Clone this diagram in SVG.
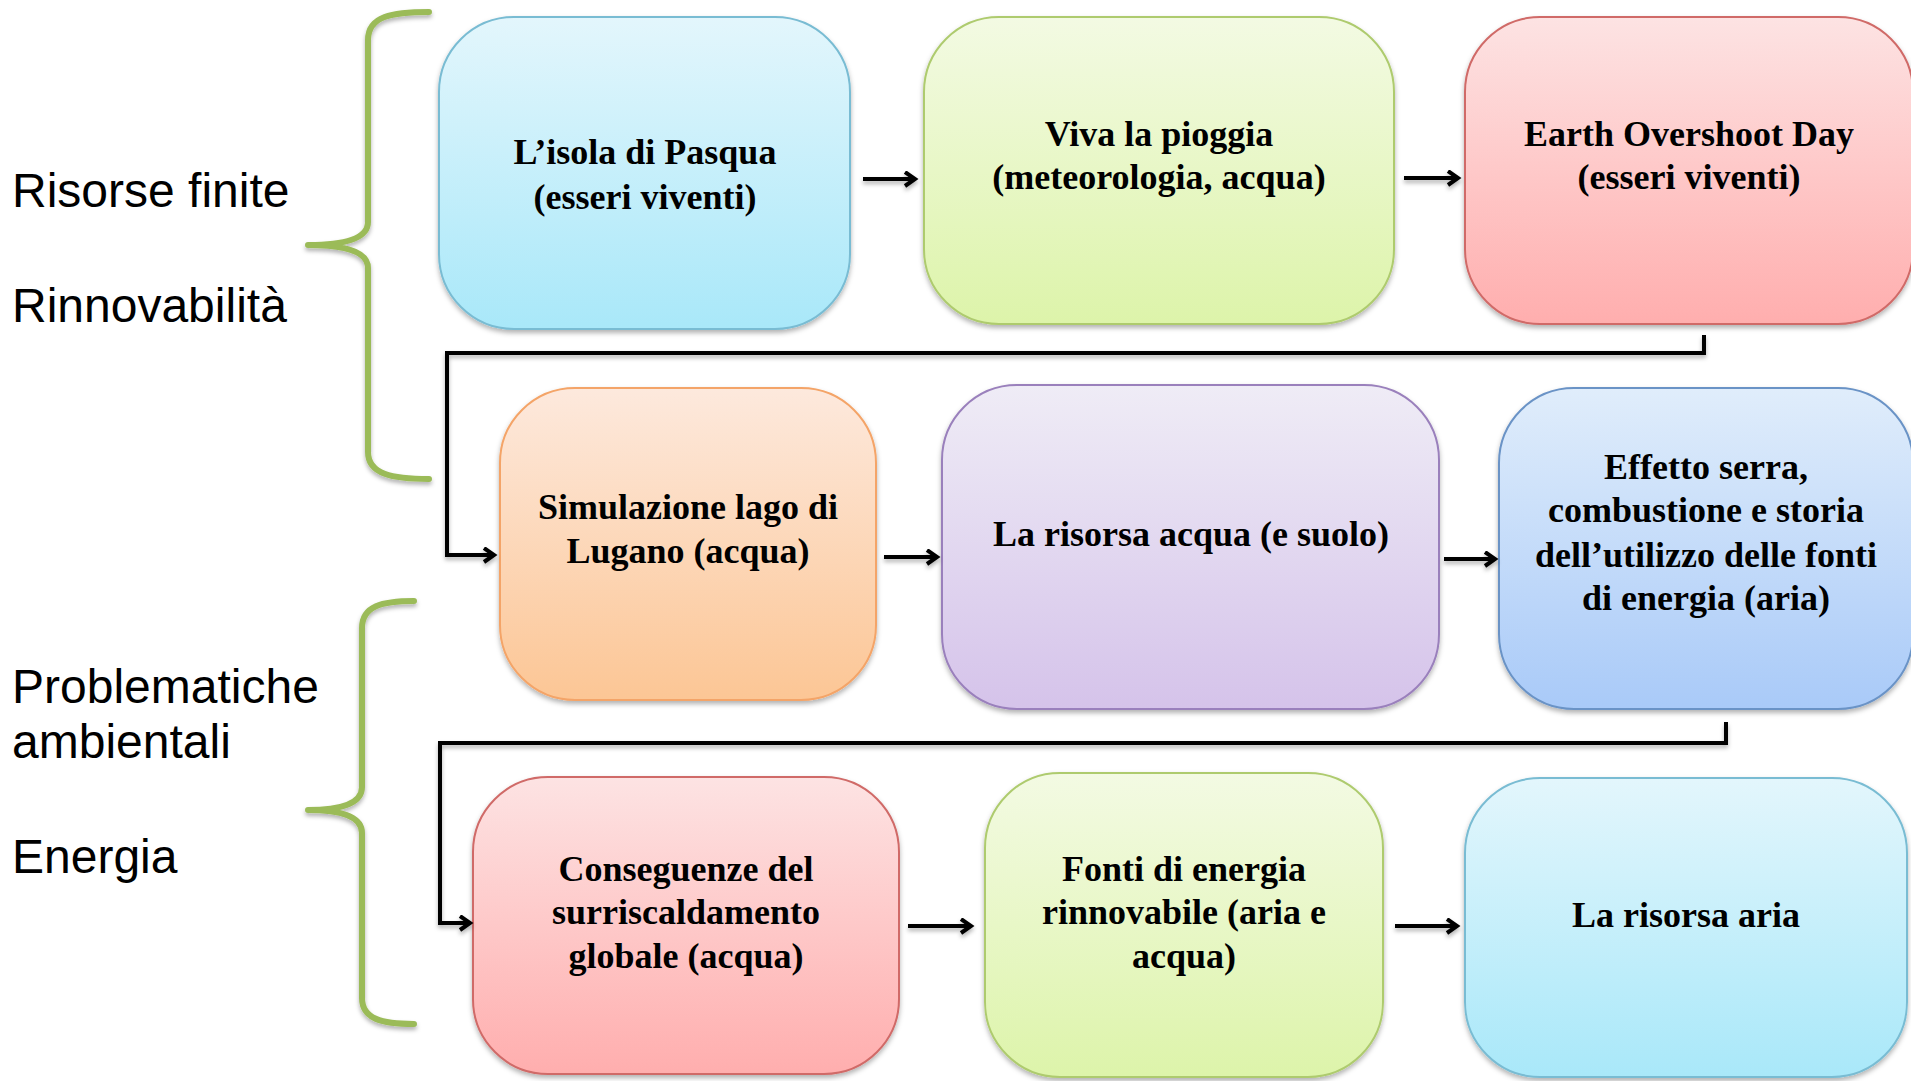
<svg xmlns="http://www.w3.org/2000/svg" width="1911" height="1081" viewBox="0 0 1911 1081">
<defs>
<linearGradient id="gCyan" x1="0" y1="0" x2="0" y2="1"><stop offset="0" stop-color="#E3F6FC"/><stop offset="1" stop-color="#A9E8F9"/></linearGradient>
<linearGradient id="gGreen" x1="0" y1="0" x2="0" y2="1"><stop offset="0" stop-color="#F3FAE3"/><stop offset="1" stop-color="#DDF4AA"/></linearGradient>
<linearGradient id="gRed" x1="0" y1="0" x2="0" y2="1"><stop offset="0" stop-color="#FDE3E3"/><stop offset="1" stop-color="#FFAEAE"/></linearGradient>
<linearGradient id="gOrange" x1="0" y1="0" x2="0" y2="1"><stop offset="0" stop-color="#FDE9DD"/><stop offset="1" stop-color="#FCC695"/></linearGradient>
<linearGradient id="gPurple" x1="0" y1="0" x2="0" y2="1"><stop offset="0" stop-color="#EFECF6"/><stop offset="1" stop-color="#D5C3EA"/></linearGradient>
<linearGradient id="gBlue" x1="0" y1="0" x2="0" y2="1"><stop offset="0" stop-color="#E0EDFB"/><stop offset="1" stop-color="#A9CAF8"/></linearGradient>
<filter id="sh" x="-10%" y="-10%" width="120%" height="125%"><feDropShadow dx="0" dy="3" stdDeviation="2.5" flood-color="#000" flood-opacity="0.3"/></filter>
<filter id="shl" filterUnits="userSpaceOnUse" x="0" y="0" width="1911" height="1081"><feDropShadow dx="0" dy="3" stdDeviation="2" flood-color="#000" flood-opacity="0.3"/></filter>
<marker id="ah" markerUnits="userSpaceOnUse" markerWidth="20" markerHeight="20" refX="12" refY="8" orient="auto"><path d="M2,1 L12,8 L2,15" fill="none" stroke="#000" stroke-width="4"/></marker>
</defs>
<style>
.box{stroke-width:2;filter:url(#sh)}
.bt{font-family:"Liberation Serif","Times New Roman",serif;font-weight:bold;font-size:36px;fill:#000;text-anchor:middle}
.lt{font-family:"Liberation Sans",Arial,sans-serif;font-size:48px;fill:#000}
.brace{fill:none;stroke:#9BBB59;stroke-width:6;stroke-linecap:round;stroke-linejoin:round;filter:url(#shl)}
.conn{fill:none;stroke:#000;stroke-width:4}
</style>
<rect width="1911" height="1081" fill="#fff"/>
<g id="labels">
<text class="lt" x="12" y="207">Risorse finite</text>
<text class="lt" x="12" y="322">Rinnovabilità</text>
<text class="lt" x="12" y="703">Problematiche</text>
<text class="lt" x="12" y="758">ambientali</text>
<text class="lt" x="12" y="873">Energia</text>
</g>
<g id="braces">
<path class="brace" d="M429 12 C392 12 368 16 368 40 L368 222 C368 240 340 245 308 245 C340 245 368 250 368 268 L368 452 C368 474 392 479 429 479"/>
<path class="brace" d="M414 601 C382 601 362 606 362 628 L362 787 C362 805 336 810 308 810 C336 810 362 815 362 833 L362 998 C362 1019 382 1024 414 1024"/>
</g>
<g id="n1"><rect class="box" x="439" y="17" width="411" height="312" rx="75" fill="url(#gCyan)" stroke="#79BCD3"/>
<text class="bt" x="645" y="164">L’isola di Pasqua</text><text class="bt" x="645" y="209">(esseri viventi)</text></g>
<g id="n2"><rect class="box" x="924" y="17" width="470" height="307" rx="75" fill="url(#gGreen)" stroke="#AECB6E"/>
<text class="bt" x="1159" y="146">Viva la pioggia</text><text class="bt" x="1159" y="189">(meteorologia, acqua)</text></g>
<g id="n3"><rect class="box" x="1465" y="17" width="448" height="307" rx="75" fill="url(#gRed)" stroke="#D06A67"/>
<text class="bt" x="1689" y="146">Earth Overshoot Day</text><text class="bt" x="1689" y="189">(esseri viventi)</text></g>
<g id="n4"><rect class="box" x="500" y="388" width="376" height="312" rx="75" fill="url(#gOrange)" stroke="#F4A467"/>
<text class="bt" x="688" y="519">Simulazione lago di</text><text class="bt" x="688" y="563">Lugano (acqua)</text></g>
<g id="n5"><rect class="box" x="942" y="385" width="497" height="324" rx="75" fill="url(#gPurple)" stroke="#9A80BC"/>
<text class="bt" x="1191" y="546">La risorsa acqua (e suolo)</text></g>
<g id="n6"><rect class="box" x="1499" y="388" width="414" height="321" rx="75" fill="url(#gBlue)" stroke="#6A93C6"/>
<text class="bt" x="1706" y="479">Effetto serra,</text><text class="bt" x="1706" y="522">combustione e storia</text><text class="bt" x="1706" y="567">dell’utilizzo delle fonti</text><text class="bt" x="1706" y="610">di energia (aria)</text></g>
<g id="n7"><rect class="box" x="473" y="777" width="426" height="297" rx="75" fill="url(#gRed)" stroke="#D06A67"/>
<text class="bt" x="686" y="881">Conseguenze del</text><text class="bt" x="686" y="924">surriscaldamento</text><text class="bt" x="686" y="968">globale (acqua)</text></g>
<g id="n8"><rect class="box" x="985" y="773" width="398" height="304" rx="75" fill="url(#gGreen)" stroke="#AECB6E"/>
<text class="bt" x="1184" y="881">Fonti di energia</text><text class="bt" x="1184" y="924">rinnovabile (aria e</text><text class="bt" x="1184" y="968">acqua)</text></g>
<g id="n9"><rect class="box" x="1465" y="778" width="442" height="299" rx="75" fill="url(#gCyan)" stroke="#79BCD3"/>
<text class="bt" x="1686" y="927">La risorsa aria</text></g>
<g id="connectors" filter="url(#shl)">
<path class="conn" d="M863 179 L915 179" marker-end="url(#ah)"/>
<path class="conn" d="M1404 178 L1458 178" marker-end="url(#ah)"/>
<path class="conn" d="M1704 335 L1704 353 L447 353 L447 555 L494 555" marker-end="url(#ah)"/>
<path class="conn" d="M884 557 L937 557" marker-end="url(#ah)"/>
<path class="conn" d="M1444 559 L1495 559" marker-end="url(#ah)"/>
<path class="conn" d="M1726 722 L1726 743 L440 743 L440 923 L470 923" marker-end="url(#ah)"/>
<path class="conn" d="M908 926 L971 926" marker-end="url(#ah)"/>
<path class="conn" d="M1395 926 L1457 926" marker-end="url(#ah)"/>
</g>
</svg>
